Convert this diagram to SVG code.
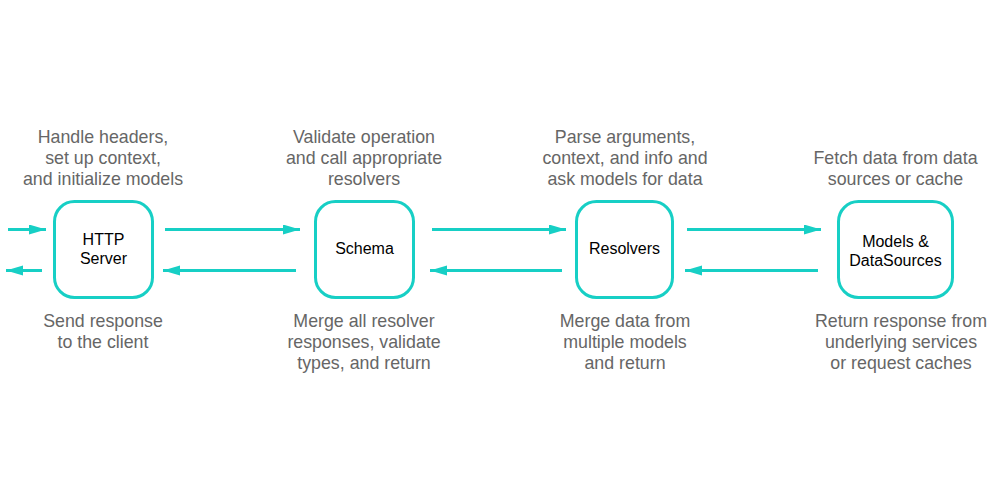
<svg xmlns="http://www.w3.org/2000/svg" width="1000" height="500" viewBox="0 0 1000 500">
<style>
.box{fill:#fff;stroke:#17CFC5;stroke-width:3}
.lbl{font-family:"Liberation Sans",Arial,sans-serif;font-size:16px;fill:#000;text-anchor:middle}
.note{font-family:"Liberation Sans",Arial,sans-serif;font-size:17.8px;fill:#666;text-anchor:middle}
.conn{stroke:#17CFC5;stroke-width:3;fill:none;marker-end:url(#ah)}
</style>
<defs>
<marker id="ah" markerUnits="userSpaceOnUse" markerWidth="18" markerHeight="12" refX="17" refY="5" orient="auto">
<path d="M0,0 L17,5 L0,10 z" fill="#17CFC5"/>
</marker>
</defs>
<rect width="1000" height="500" fill="#fff"/>
<g id="connectors">
<line class="conn" x1="8" y1="229.5" x2="46" y2="229.5"/>
<line class="conn" x1="165" y1="229.5" x2="300" y2="229.5"/>
<line class="conn" x1="432" y1="229.5" x2="566" y2="229.5"/>
<line class="conn" x1="687" y1="229.5" x2="821" y2="229.5"/>
<line class="conn" x1="42" y1="270.5" x2="6" y2="270.5"/>
<line class="conn" x1="296" y1="270.5" x2="163" y2="270.5"/>
<line class="conn" x1="562" y1="270.5" x2="430" y2="270.5"/>
<line class="conn" x1="818" y1="270.5" x2="685" y2="270.5"/>
</g>
<g id="http">
<rect class="box" x="54.5" y="201.5" width="98" height="96" rx="20"/>
<text class="lbl" x="103.5" y="245">HTTP</text>
<text class="lbl" x="103.5" y="264">Server</text>
<text class="note" x="103" y="143">Handle headers,</text>
<text class="note" x="103" y="164">set up context,</text>
<text class="note" x="103" y="185">and initialize models</text>
<text class="note" x="103" y="327">Send response</text>
<text class="note" x="103" y="348">to the client</text>
</g>
<g id="schema">
<rect class="box" x="315.5" y="201.5" width="98" height="96" rx="20"/>
<text class="lbl" x="364.5" y="254">Schema</text>
<text class="note" x="364" y="143">Validate operation</text>
<text class="note" x="364" y="164">and call appropriate</text>
<text class="note" x="364" y="185">resolvers</text>
<text class="note" x="364" y="327">Merge all resolver</text>
<text class="note" x="364" y="348">responses, validate</text>
<text class="note" x="364" y="369">types, and return</text>
</g>
<g id="resolvers">
<rect class="box" x="576.5" y="201.5" width="96" height="96" rx="20"/>
<text class="lbl" x="624.5" y="254">Resolvers</text>
<text class="note" x="625" y="143">Parse arguments,</text>
<text class="note" x="625" y="164">context, and info and</text>
<text class="note" x="625" y="185">ask models for data</text>
<text class="note" x="625" y="327">Merge data from</text>
<text class="note" x="625" y="348">multiple models</text>
<text class="note" x="625" y="369">and return</text>
</g>
<g id="models">
<rect class="box" x="838.5" y="201.5" width="114" height="96" rx="20"/>
<text class="lbl" x="895.5" y="247">Models &amp;</text>
<text class="lbl" x="895.5" y="266">DataSources</text>
<text class="note" x="895.5" y="164">Fetch data from data</text>
<text class="note" x="895.5" y="185">sources or cache</text>
<text class="note" x="901" y="327">Return response from</text>
<text class="note" x="901" y="348">underlying services</text>
<text class="note" x="901" y="369">or request caches</text>
</g>
</svg>
